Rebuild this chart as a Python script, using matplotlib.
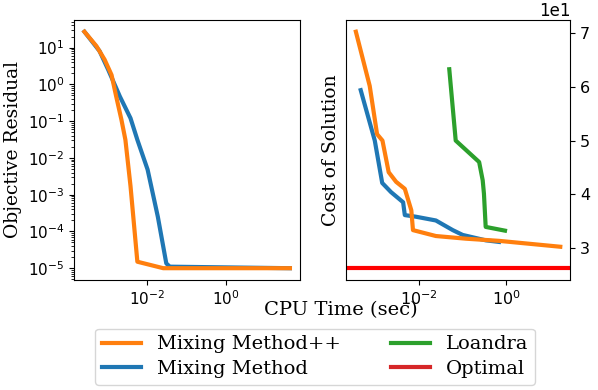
import numpy as np
import matplotlib
matplotlib.use("Agg")
import matplotlib.pyplot as plt
from matplotlib.lines import Line2D

# Left panel: objective residual vs CPU time
mmpp_res_t = [2.7e-4, 5.4e-4, 8.7e-4, 1.3e-3, 1.7e-3, 2.3e-3, 2.9e-3, 3.9e-3, 5.8e-3, 2.6e-2, 40]
mmpp_res = [27, 11, 4.7, 1.8, 0.47, 0.11, 0.031, 1.7e-3, 1.5e-5, 1e-5, 1e-5]
mm_res_t = [2.7e-4, 6.5e-4, 1.07e-3, 2.1e-3, 3.9e-3, 5.8e-3, 1.05e-2, 1.9e-2, 3.1e-2, 3.8e-2, 40]
mm_res = [27, 8, 2.5, 0.47, 0.12, 0.031, 4.8e-3, 2.5e-4, 1.35e-5, 1.1e-5, 1e-5]

# Right panel: cost of solution vs CPU time
mmpp_cost_t = [3.4e-4, 7.1e-4, 1.05e-3, 1.4e-3, 1.95e-3, 2.9e-3, 4.6e-3, 6.5e-3, 7.1e-3, 2.4e-2, 0.12, 0.69, 18]
mmpp_cost = [70.3, 60.2, 51.2, 50.0, 44.1, 42.3, 41.0, 37.0, 33.3, 32.2, 31.7, 31.3, 30.2]
mm_cost_t = [4.4e-4, 9.3e-4, 1.38e-3, 2.2e-3, 4.2e-3, 4.6e-3, 8.3e-3, 2.4e-2, 5.9e-2, 0.1, 0.34, 0.69]
mm_cost = [59.4, 50.0, 42.1, 40.4, 38.5, 36.1, 35.8, 35.1, 33.3, 32.4, 31.4, 31.1]
loandra_t = [4.9e-2, 6.9e-2, 0.24, 0.29, 0.31, 0.34, 0.95]
loandra_cost = [63.3, 50.0, 46.0, 42.6, 40.1, 33.9, 33.2]
optimal_cost = 26.2

c_mmpp = "tab:orange"
c_mm = "tab:blue"
c_lo = "tab:green"
lw = 3

fig = plt.figure(figsize=(5.98, 3.9), dpi=100)
ax1 = fig.add_axes([0.124, 0.282, 0.378, 0.667])
ax2 = fig.add_axes([0.578, 0.282, 0.376, 0.667])

ax1.plot(mm_res_t, mm_res, color=c_mm, lw=lw)
ax1.plot(mmpp_res_t, mmpp_res, color=c_mmpp, lw=lw)
ax1.set_xscale("log")
ax1.set_yscale("log")
ax1.set_ylabel("Objective Residual", family="DejaVu Serif", fontsize=13.5)
ax1.tick_params(labelsize=11)

ax2.plot(mm_cost_t, mm_cost, color=c_mm, lw=lw)
ax2.plot(mmpp_cost_t, mmpp_cost, color=c_mmpp, lw=lw)
ax2.plot(loandra_t, loandra_cost, color=c_lo, lw=lw)
ax2.axhline(optimal_cost, color="red", lw=lw)
ax2.set_xscale("log")
ax2.yaxis.tick_right()
ax2.ticklabel_format(axis="y", style="sci", scilimits=(0, 0))
ax2.yaxis.get_offset_text().set_fontsize(12)
ax2.set_ylabel("Cost of Solution", family="DejaVu Serif", fontsize=13.5)
ax2.tick_params(labelsize=11.5)

fig.text(0.57, 0.205, "CPU Time (sec)", ha="center", va="center",
         family="DejaVu Serif", fontsize=14)

handles = [
    Line2D([], [], color=c_mmpp, lw=lw),
    Line2D([], [], color=c_mm, lw=lw),
    Line2D([], [], color=c_lo, lw=lw),
    Line2D([], [], color="tab:red", lw=lw),
]
labels = ["Mixing Method++", "Mixing Method", "Loandra", "Optimal"]
fig.legend(handles, labels, ncol=2, loc="lower center", bbox_to_anchor=(0.527, -0.012),
           prop={"family": "DejaVu Serif", "size": 14}, columnspacing=2.6,
           handlelength=2.0, labelspacing=0.35, borderpad=0.35)

fig.savefig("out.png", dpi=100)
